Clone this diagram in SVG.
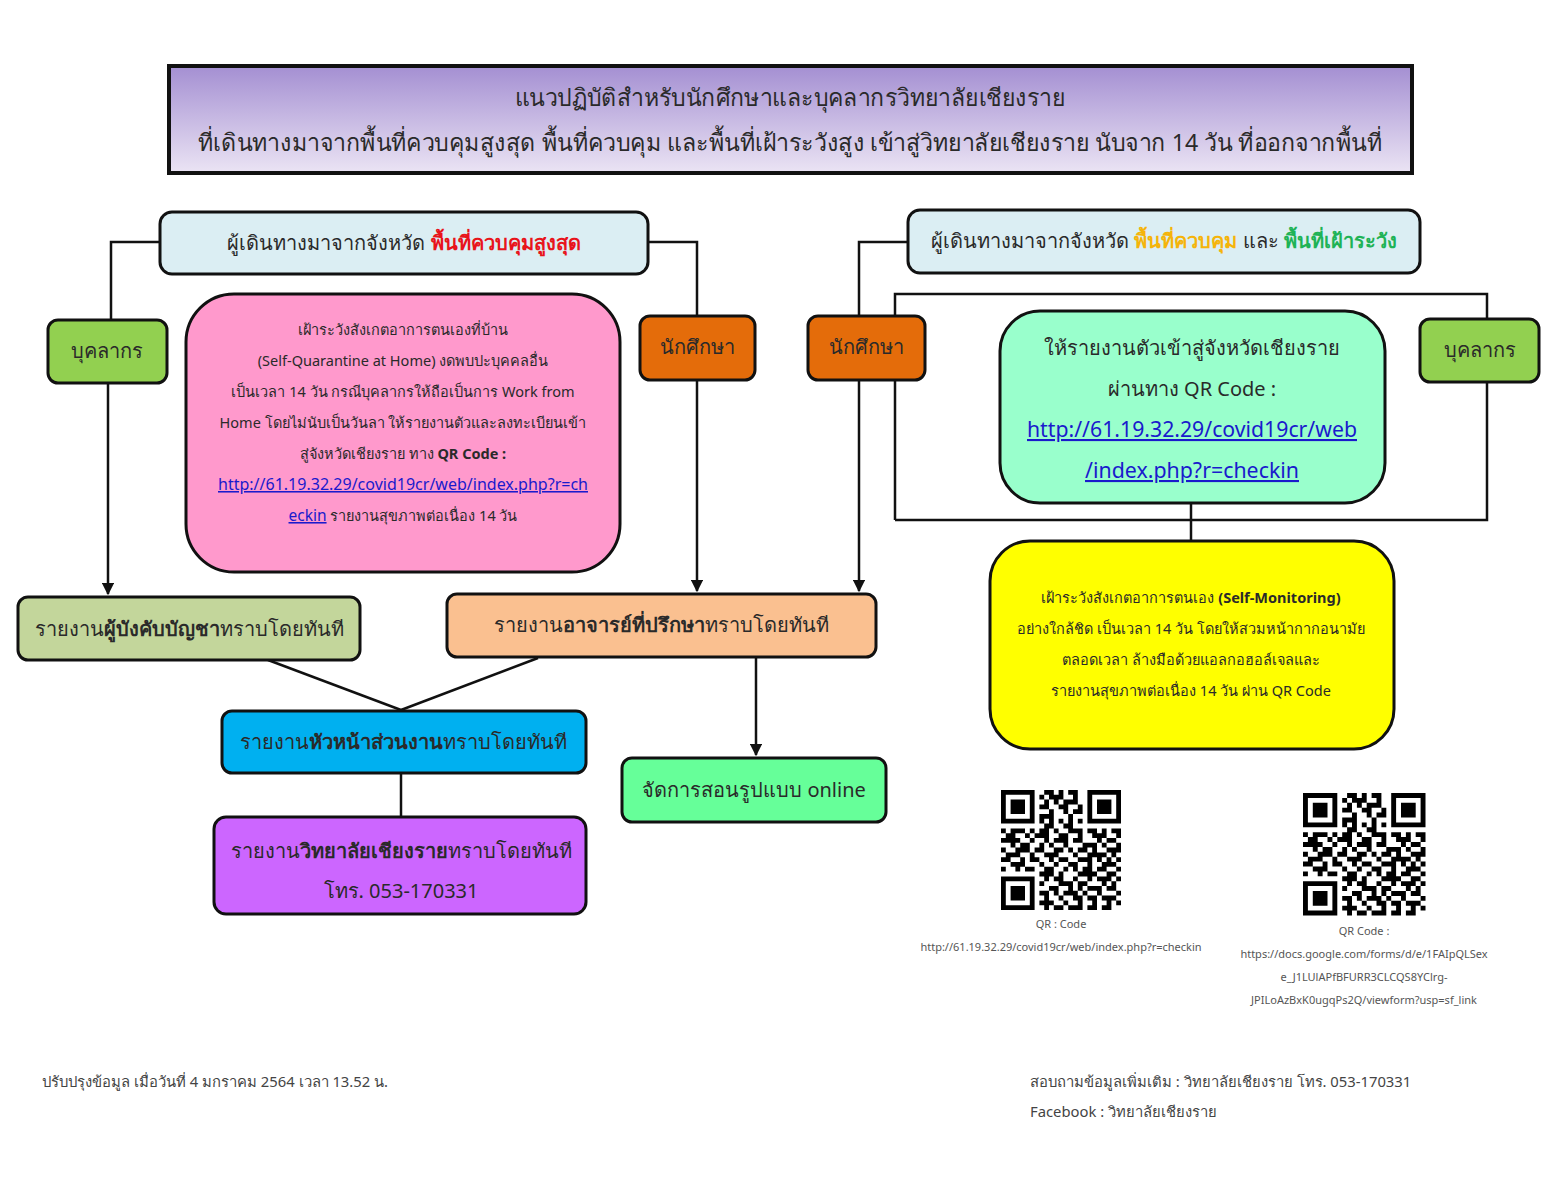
<svg xmlns="http://www.w3.org/2000/svg" width="1553" height="1200" viewBox="0 0 1553 1200">
<style>
text{font-family:"Noto Sans","DejaVu Sans","Liberation Sans",sans-serif;fill:#2a2a2a;text-anchor:middle}
.box{stroke:#111;stroke-width:3}
.con{stroke:#111;stroke-width:2.5;fill:none}
.b{font-weight:bold}
.lk{fill:#1a1acc;text-decoration:underline}
.t20{font-size:20px}
.t15{font-size:14.5px}
.cap{font-size:11px;fill:#555}
.ft{font-size:14.8px;fill:#444;text-anchor:start}
</style>
<defs>
<linearGradient id="tg" x1="0" y1="0" x2="0" y2="1">
<stop offset="0" stop-color="#a48fd2"/>
<stop offset="1" stop-color="#ebe4f4"/>
</linearGradient>
<marker id="ar" viewBox="0 0 10 10" refX="9" refY="5" markerWidth="5" markerHeight="5" orient="auto">
<path d="M0 0L10 5L0 10z" fill="#111"/>
</marker>
<g id="qr">
<rect x="0" y="0" width="25" height="25" fill="#fff"/>
<path fill="#000" fill-rule="evenodd" d="M0 0h7v7h-7z M1 1v5h5v-5z M2 2h3v3h-3z M18 0h7v7h-7z M19 1v5h5v-5z M20 2h3v3h-3z M0 18h7v7h-7z M1 19v5h5v-5z M2 20h3v3h-3z"/>
<path fill="#000" d="M9 0h2v1h-2z M12 0h1v1h-1z M14 0h2v1h-2z M8 1h1v1h-1z M10 1h3v1h-3z M15 1h1v1h-1z M9 2h1v1h-1z M11 2h1v1h-1z M13 2h3v1h-3z M8 3h2v1h-2z M12 3h2v1h-2z M16 3h1v1h-1z M10 4h1v1h-1z M13 4h1v1h-1z M15 4h2v1h-2z M8 5h3v1h-3z M14 5h1v1h-1z M8 6h1v1h-1z M10 6h1v1h-1z M12 6h1v1h-1z M14 6h1v1h-1z M16 6h1v1h-1z M9 7h2v1h-2z M13 7h2v1h-2z M0 8h1v1h-1z M2 8h3v1h-3z M6 8h1v1h-1z M8 8h2v1h-2z M11 8h1v1h-1z M14 8h3v1h-3z M18 8h2v1h-2z M21 8h1v1h-1z M23 8h2v1h-2z M1 9h2v1h-2z M5 9h1v1h-1z M7 9h3v1h-3z M12 9h2v1h-2z M16 9h1v1h-1z M19 9h3v1h-3z M24 9h1v1h-1z M0 10h4v1h-4z M6 10h1v1h-1z M9 10h1v1h-1z M11 10h3v1h-3z M15 10h2v1h-2z M20 10h1v1h-1z M22 10h2v1h-2z M2 11h1v1h-1z M4 11h2v1h-2z M8 11h1v1h-1z M10 11h1v1h-1z M13 11h1v1h-1z M17 11h3v1h-3z M21 11h1v1h-1z M24 11h1v1h-1z M0 12h1v1h-1z M3 12h3v1h-3z M7 12h2v1h-2z M11 12h2v1h-2z M14 12h1v1h-1z M16 12h2v1h-2z M19 12h1v1h-1z M22 12h3v1h-3z M1 13h3v1h-3z M6 13h1v1h-1z M9 13h3v1h-3z M15 13h1v1h-1z M18 13h4v1h-4z M23 13h1v1h-1z M0 14h2v1h-2z M4 14h1v1h-1z M6 14h2v1h-2z M10 14h1v1h-1z M12 14h2v1h-2z M16 14h3v1h-3z M20 14h1v1h-1z M22 14h1v1h-1z M24 14h1v1h-1z M2 15h3v1h-3z M8 15h1v1h-1z M11 15h1v1h-1z M14 15h2v1h-2z M18 15h1v1h-1z M21 15h3v1h-3z M0 16h1v1h-1z M3 16h1v1h-1z M5 16h2v1h-2z M9 16h2v1h-2z M13 16h1v1h-1z M15 16h1v1h-1z M17 16h2v1h-2z M20 16h2v1h-2z M24 16h1v1h-1z M8 17h3v1h-3z M12 17h1v1h-1z M16 17h4v1h-4z M22 17h2v1h-2z M9 18h1v1h-1z M11 18h2v1h-2z M15 18h1v1h-1z M18 18h1v1h-1z M20 18h3v1h-3z M24 18h1v1h-1z M8 19h1v1h-1z M12 19h3v1h-3z M16 19h2v1h-2z M21 19h1v1h-1z M23 19h1v1h-1z M10 20h2v1h-2z M14 20h1v1h-1z M16 20h1v1h-1z M18 20h3v1h-3z M22 20h2v1h-2z M8 21h2v1h-2z M11 21h1v1h-1z M13 21h3v1h-3z M17 21h1v1h-1z M20 21h1v1h-1z M24 21h1v1h-1z M9 22h1v1h-1z M12 22h1v1h-1z M15 22h2v1h-2z M18 22h2v1h-2z M21 22h3v1h-3z M8 23h3v1h-3z M13 23h1v1h-1z M16 23h1v1h-1z M19 23h1v1h-1z M22 23h1v1h-1z M24 23h1v1h-1z M9 24h1v1h-1z M11 24h2v1h-2z M14 24h3v1h-3z M18 24h2v1h-2z M21 24h2v1h-2z"/>
</g>
</defs>
<rect width="1553" height="1200" fill="#fff"/>

<g id="title">
<rect x="169" y="66" width="1243" height="107" fill="url(#tg)" stroke="#111" stroke-width="4"/>
<text x="790" y="106" style="font-size:24px" textLength="550" lengthAdjust="spacingAndGlyphs">แนวปฏิบัติสำหรับนักศึกษาและบุคลากรวิทยาลัยเชียงราย</text>
<text x="790" y="151" style="font-size:24px" textLength="1184" lengthAdjust="spacingAndGlyphs">ที่เดินทางมาจากพื้นที่ควบคุมสูงสุด พื้นที่ควบคุม และพื้นที่เฝ้าระวังสูง เข้าสู่วิทยาลัยเชียงราย นับจาก 14 วัน ที่ออกจากพื้นที่</text>
</g>

<g id="connectors">
<polyline class="con" points="160,242 111,242 111,320"/>
<line class="con" x1="108" y1="383" x2="108" y2="594" marker-end="url(#ar)"/>
<polyline class="con" points="648,242 697,242 697,316"/>
<line class="con" x1="697" y1="380" x2="697" y2="591" marker-end="url(#ar)"/>
<polyline class="con" points="908,242 859,242 859,316"/>
<line class="con" x1="859" y1="380" x2="859" y2="591" marker-end="url(#ar)"/>
<polyline class="con" points="895,520 895,294 1487,294 1487,320"/>
<polyline class="con" points="1487,382 1487,520 895,520"/>
<line class="con" x1="1191" y1="503" x2="1191" y2="541"/>
<line class="con" x1="268" y1="660" x2="401" y2="710"/>
<line class="con" x1="538" y1="658" x2="401" y2="710"/>
<line class="con" x1="401" y1="773" x2="401" y2="817"/>
<line class="con" x1="756" y1="657" x2="756" y2="755" marker-end="url(#ar)"/>
</g>

<g id="head-left">
<rect class="box" x="160" y="212" width="488" height="62" rx="12" fill="#dbeef3"/>
<text x="404" y="250" class="t20"><tspan>ผู้เดินทางมาจากจังหวัด </tspan><tspan class="b" style="fill:#e8141b">พื้นที่ควบคุมสูงสุด</tspan></text>
</g>

<g id="head-right">
<rect class="box" x="908" y="210" width="512" height="63" rx="12" fill="#dbeef3"/>
<text x="1164" y="248" class="t20"><tspan>ผู้เดินทางมาจากจังหวัด </tspan><tspan class="b" style="fill:#f5b40a">พื้นที่ควบคุม</tspan><tspan> และ </tspan><tspan class="b" style="fill:#1fb356">พื้นที่เฝ้าระวัง</tspan></text>
</g>

<g id="staff-left">
<rect class="box" x="48" y="320" width="119" height="63" rx="10" fill="#92d050"/>
<text x="107" y="358" class="t20">บุคลากร</text>
</g>

<g id="student-left">
<rect class="box" x="640" y="316" width="115" height="64" rx="10" fill="#e46c0a"/>
<text x="697" y="354" class="t20">นักศึกษา</text>
</g>

<g id="student-right">
<rect class="box" x="808" y="316" width="117" height="64" rx="10" fill="#e46c0a"/>
<text x="866" y="354" class="t20">นักศึกษา</text>
</g>

<g id="staff-right">
<rect class="box" x="1420" y="319" width="119" height="63" rx="10" fill="#92d050"/>
<text x="1480" y="357" class="t20">บุคลากร</text>
</g>

<g id="pink">
<rect class="box" x="186" y="294" width="434" height="278" rx="48" fill="#ff99cc"/>
<g class="t15">
<text x="403" y="335">เฝ้าระวังสังเกตอาการตนเองที่บ้าน</text>
<text x="403" y="366">(Self-Quarantine at Home) งดพบปะบุคคลอื่น</text>
<text x="403" y="397">เป็นเวลา 14 วัน กรณีบุคลากรให้ถือเป็นการ Work from</text>
<text x="403" y="428">Home โดยไม่นับเป็นวันลา ให้รายงานตัวและลงทะเบียนเข้า</text>
<text x="403" y="459"><tspan>สู่จังหวัดเชียงราย ทาง </tspan><tspan class="b">QR Code :</tspan></text>
<text x="403" y="490" class="lk" style="font-size:15.5px" textLength="370" lengthAdjust="spacingAndGlyphs">http://61.19.32.29/covid19cr/web/index.php?r=ch</text>
<text x="403" y="521"><tspan class="lk" style="font-size:15.5px">eckin</tspan><tspan> รายงานสุขภาพต่อเนื่อง 14 วัน</tspan></text>
</g>
</g>

<g id="cyan">
<rect class="box" x="1000" y="311" width="385" height="192" rx="40" fill="#99ffcc"/>
<text x="1192" y="355" class="t20">ให้รายงานตัวเข้าสู่จังหวัดเชียงราย</text>
<text x="1192" y="396" class="t20">ผ่านทาง QR Code :</text>
<text x="1192" y="437" class="t20 lk" style="font-size:21px" textLength="330" lengthAdjust="spacingAndGlyphs">http://61.19.32.29/covid19cr/web</text>
<text x="1192" y="478" class="t20 lk" style="font-size:21px" textLength="214" lengthAdjust="spacingAndGlyphs">/index.php?r=checkin</text>
</g>

<g id="yellow">
<rect class="box" x="990" y="541" width="404" height="208" rx="40" fill="#ffff00"/>
<g class="t15">
<text x="1191" y="603"><tspan>เฝ้าระวังสังเกตอาการตนเอง </tspan><tspan class="b">(Self-Monitoring)</tspan></text>
<text x="1191" y="634">อย่างใกล้ชิด เป็นเวลา 14 วัน โดยให้สวมหน้ากากอนามัย</text>
<text x="1191" y="665">ตลอดเวลา ล้างมือด้วยแอลกอฮอล์เจลและ</text>
<text x="1191" y="696">รายงานสุขภาพต่อเนื่อง 14 วัน ผ่าน QR Code</text>
</g>
</g>

<g id="report-supervisor">
<rect class="box" x="18" y="597" width="342" height="63" rx="10" fill="#c3d69b"/>
<text x="189" y="636" class="t20"><tspan>รายงาน</tspan><tspan class="b">ผู้บังคับบัญชา</tspan><tspan>ทราบโดยทันที</tspan></text>
</g>

<g id="report-advisor">
<rect class="box" x="447" y="594" width="429" height="63" rx="10" fill="#fac090"/>
<text x="661" y="632" class="t20"><tspan>รายงาน</tspan><tspan class="b">อาจารย์ที่ปรึกษา</tspan><tspan>ทราบโดยทันที</tspan></text>
</g>

<g id="report-head">
<rect class="box" x="222" y="711" width="364" height="62" rx="10" fill="#00b0f0"/>
<text x="403" y="749" class="t20"><tspan>รายงาน</tspan><tspan class="b">หัวหน้าส่วนงาน</tspan><tspan>ทราบโดยทันที</tspan></text>
</g>

<g id="online">
<rect class="box" x="622" y="758" width="264" height="64" rx="10" fill="#66ff99"/>
<text x="754" y="797" class="t20">จัดการสอนรูปแบบ online</text>
</g>

<g id="report-college">
<rect class="box" x="214" y="817" width="372" height="97" rx="12" fill="#cc66ff"/>
<text x="401" y="858" class="t20"><tspan>รายงาน</tspan><tspan class="b">วิทยาลัยเชียงราย</tspan><tspan>ทราบโดยทันที</tspan></text>
<text x="401" y="898" class="t20">โทร. 053-170331</text>
</g>

<g id="qr1">
<use href="#qr" transform="translate(1001,790) scale(4.8)"/>
<text x="1061" y="928" class="cap">QR : Code</text>
<text x="1061" y="951" class="cap">http://61.19.32.29/covid19cr/web/index.php?r=checkin</text>
</g>

<g id="qr2">
<use href="#qr" transform="translate(1303,793) scale(4.9)"/>
<text x="1364" y="935" class="cap">QR Code :</text>
<text x="1364" y="958" class="cap">https://docs.google.com/forms/d/e/1FAIpQLSex</text>
<text x="1364" y="981" class="cap">e_J1LUlAPfBFURR3CLCQS8YClrg-</text>
<text x="1364" y="1004" class="cap">JPILoAzBxK0ugqPs2Q/viewform?usp=sf_link</text>
</g>

<g id="footer">
<text x="42" y="1087" class="ft">ปรับปรุงข้อมูล เมื่อวันที่ 4 มกราคม 2564 เวลา 13.52 น.</text>
<text x="1030" y="1087" class="ft">สอบถามข้อมูลเพิ่มเติม : วิทยาลัยเชียงราย โทร. 053-170331</text>
<text x="1030" y="1117" class="ft">Facebook : วิทยาลัยเชียงราย</text>
</g>
</svg>
